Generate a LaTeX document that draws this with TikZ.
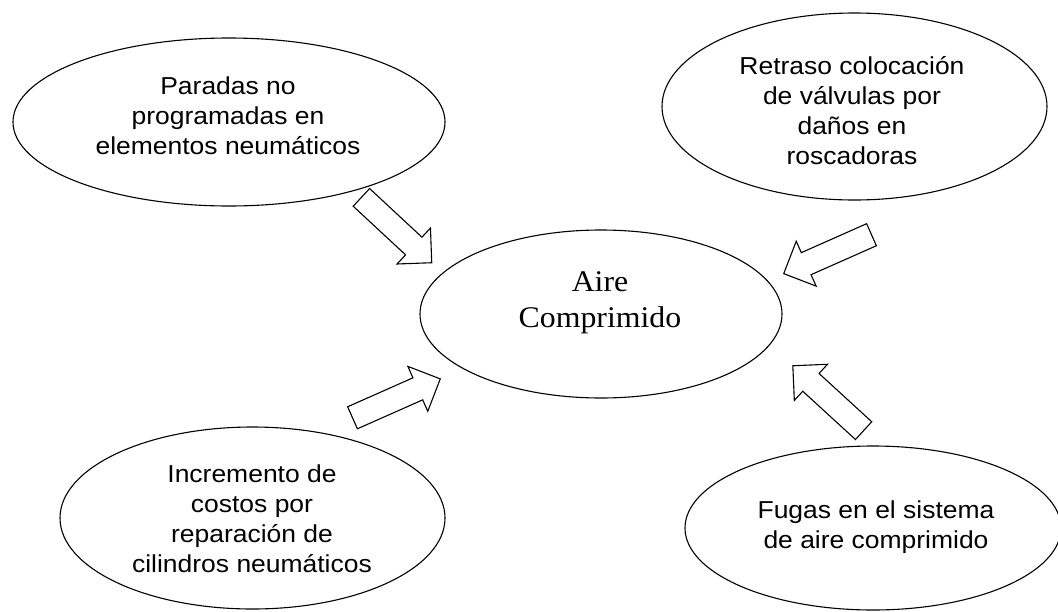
\documentclass[tikz,border=0pt]{standalone}
\usepackage{fontspec}
\usetikzlibrary{shapes.geometric,shapes.arrows}
\newfontfamily\sansA{Liberation Sans}[FakeStretch=1.08]
\newfontfamily\serifA{Liberation Serif}[FakeStretch=1.06]
\begin{document}
\begin{tikzpicture}[x=1pt,y=-1pt,
  bubble/.style={draw=black, line width=1.1pt, ellipse, inner sep=0pt},
  lbl/.style={align=center, inner sep=0pt, font=\sansA\fontsize{24.5}{30}\selectfont},
  mainlbl/.style={align=center, inner sep=0pt, font=\serifA\fontsize{30}{36}\selectfont},
  blockarrow/.style={draw=black, line width=1.1pt, fill=white, single arrow,
    single arrow tip angle=90, single arrow head extend=12.5pt,
    single arrow head indent=0pt, minimum height=96pt, minimum width=0pt,
    inner xsep=0pt, inner ysep=11.5pt, anchor=tail}]
\useasboundingbox (0,0) rectangle (1058,611);
\clip (0,0) rectangle (1058,611);
\fill[white] (0,0) rectangle (1058,611);
% ellipses
\node[bubble, minimum width=432pt, minimum height=168pt] (e1) at (229,122) {};
\node[bubble, minimum width=385pt, minimum height=187pt] (e2) at (854.5,106.5) {};
\node[bubble, minimum width=362pt, minimum height=168pt] (e0) at (601,314) {};
\node[bubble, minimum width=385pt, minimum height=182pt] (e3) at (252.5,518) {};
\node[bubble, minimum width=376pt, minimum height=164pt] (e4) at (873,528) {};
% texts
\node[lbl] (t1) at (228,116) {Paradas no\\programadas en\\elementos neumáticos};
\node[lbl] (t2) at (852,111) {Retraso colocación\\de válvulas por\\daños en\\roscadoras};
\node[mainlbl] (t0) at (600,303) {Aire\\Comprimido};
\node[lbl] (t3) at (252,519) {Incremento de\\costos por\\reparación de\\cilindros neumáticos};
\node[lbl] (t4) at (876,527) {Fugas en el sistema\\de aire comprimido};
% arrow tails
\coordinate (s1) at (361,197);
\coordinate (s2) at (872,234.5);
\coordinate (s3) at (352,418);
\coordinate (s4) at (864,431);
\node[blockarrow, rotate=-42.9] (a1) at (s1) {};
\node[blockarrow, rotate=-156.1] (a2) at (s2) {};
\node[blockarrow, rotate=23.9] (a3) at (s3) {};
\node[blockarrow, rotate=137.5] (a4) at (s4) {};
\end{tikzpicture}
\end{document}
